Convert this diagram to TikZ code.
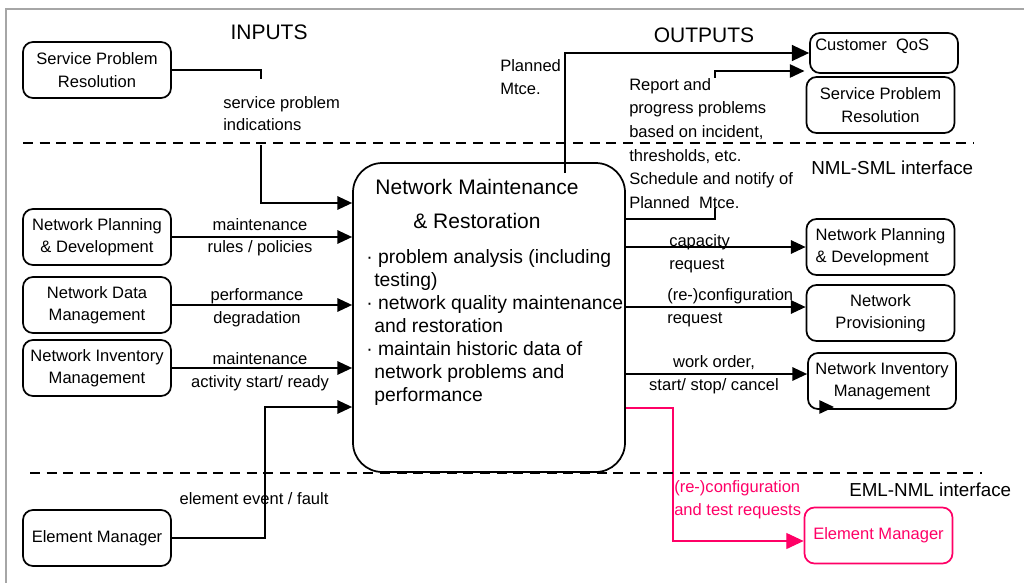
\documentclass[tikz,border=0pt]{standalone}
\usepackage{fontspec}
\setmainfont{Liberation Sans}
\usepackage{tikz}
\usetikzlibrary{arrows.meta, positioning, calc}
\definecolor{linkpink}{RGB}{255,0,102}
\tikzset{
    box/.style={draw, rounded corners=7.5pt, line width=1.3pt, minimum width=111pt, minimum height=42pt, inner sep=1pt, align=center, font=\fontsize{12.4}{16.9}\selectfont},
    lbl/.style={inner sep=0pt, align=center, font=\fontsize{12.4}{16.9}\selectfont},
    hdr/.style={inner sep=0pt, font=\fontsize{15.75}{18}\selectfont},
    iface/.style={anchor=west, inner sep=0pt, font=\fontsize{14.1}{16}\selectfont},
    arr/.style={-{Triangle[length=11pt, width=10pt]}, line width=1.3pt},
    bigarr/.style={-{Triangle[length=13pt, width=12pt]}, line width=1.3pt},
    sep/.style={dash pattern=on 7.5pt off 5pt, line width=1.5pt}
}

\begin{document}
\begin{tikzpicture}[x=0.75pt, y=-0.75pt]
    \useasboundingbox (0,0) rectangle (1024,582);
    \draw[gray!70, line width=1.5pt] (6,600) -- (6,9) -- (1040,9);

    \node[hdr] (inputs) at (269,32) {INPUTS};
    \node[hdr] (outputs) at (704,35) {OUTPUTS};

    \node[box] (spL) at (97,70) {Service Problem\\Resolution};
    \node[box] (npdL) at (97,237) {Network Planning\\\& Development};
    \node[box] (ndmL) at (97,305) {Network Data\\Management};
    \node[box] (nimL) at (97,368) {Network Inventory\\Management};
    \node[box] (emL) at (97,538) {Element Manager};

    \node[box, minimum width=204pt, minimum height=231.75pt, rounded corners=22pt] (main) at (489,317.5) {};
    \node[inner sep=0pt, align=center, font=\fontsize{15.75}{25.5}\selectfont] (mainTtl) at (477,204) {Network Maintenance\\\& Restoration};
    \node[anchor=north west, inner sep=0pt, align=left, font=\fontsize{14.5}{17.25}\selectfont] (mainTxt) at (366,249) {· problem analysis (including\\\hspace*{6pt}testing)\\· network quality maintenance\\\hspace*{6pt}and restoration\\· maintain historic data of\\\hspace*{6pt}network problems and\\\hspace*{6pt}performance};

    \node[box, minimum height=30pt] (cqos) at (884,53) {};
    \node[lbl, anchor=north west] (cqosTxt) at (815,39) {Customer~~QoS};
    \node[box] (spR) at (880.5,105) {Service Problem\\Resolution};
    \node[box, align=left] (npdR) at (880.5,247) {Network Planning\\\& Development};
    \node[box] (npR) at (880.5,313) {Network\\Provisioning};
    \node[box] (nimR) at (882,381) {Network Inventory\\Management};
    \node[box, draw=linkpink, text=linkpink] (emR) at (878.5,535.5) {Element Manager};

    \node[iface] (nmlsml) at (811,168) {NML-SML interface};
    \node[iface] (emlnml) at (849,490) {EML-NML interface};

    \coordinate (spEnd) at (261,79);
    \coordinate (spStart) at (261,145);
    \coordinate (spIn) at (261,203);
    \draw[line width=1.3pt] (spL) -| (spEnd);
    \draw[arr] (spStart) -- (spIn) -- (spIn -| main.west);
    \node[lbl, anchor=west, align=left] (spLbl) at (223,113.5) {service problem\\indications};

    \draw[arr] (npdL) -- (npdL -| main.west);
    \node[lbl] (npdLbl) at (260,237) {maintenance\\rules / policies};
    \draw[arr] (ndmL) -- (ndmL -| main.west);
    \node[lbl] (ndmLbl) at (257,307.5) {performance\\degradation};
    \draw[arr] (nimL) -- (nimL -| main.west);
    \node[lbl] (nimLbl) at (260,371.5) {maintenance\\activity start/ ready};
    \coordinate (emIn) at (265,407);
    \draw[arr] (emL) -| (emIn) -- (emIn -| main.west);
    \node[lbl] (emLbl) at (254,499) {element event / fault};

    \coordinate (pmOut) at (565,173);
    \draw[bigarr] (pmOut) |- (cqos);
    \node[lbl, anchor=west, align=left] (pmLbl) at (500,77) {Planned\\Mtce.};

    \coordinate (rpBend) at (715,219);
    \coordinate (rpTop) at (715,71);
    \draw[arr, shorten >=3.5pt] (rpBend -| main.east) -- (rpBend) -- (rpTop) -- (rpTop -| cqos.west);
    \node[lbl, anchor=north west, align=left, fill=white, font=\fontsize{12.4}{17.7}\selectfont] (rpLbl) at (629,78) {Report and\\progress problems\\based on incident,\\thresholds, etc.\\Schedule and notify of\\Planned~~Mtce.};

    \draw[arr] (npdR -| main.east) -- (npdR);
    \node[lbl, anchor=west, align=left] (capLbl) at (669,253.5) {capacity\\request};
    \coordinate (cfgOut) at (625,307);
    \draw[arr] (cfgOut -| main.east) -- (cfgOut -| npR.west);
    \node[lbl, anchor=west, align=left] (cfgLbl) at (667,307.5) {(re-)configuration\\request};
    \coordinate (woOut) at (625,374);
    \draw[arr] (woOut -| main.east) -- (woOut -| nimR.west);
    \node[lbl] (woLbl) at (714,374.5) {work order,\\start/ stop/ cancel};
    \coordinate (nimTail) at (824,407);
    \coordinate (nimTip) at (834,407);
    \draw[arr] (nimTail) -- (nimTip);

    \coordinate (pkBend) at (673,408);
    \coordinate (pkLow) at (673,541);
    \draw[bigarr, color=linkpink, line width=0.9pt] (pkBend -| main.east) -- (pkBend) -- (pkLow) -- (pkLow -| emR.west);
    \node[lbl, anchor=west, align=left, text=linkpink] (pkLbl) at (674,499.5) {(re-)configuration\\and test requests};

    \draw[sep] (23,143) -- (974,143);
    \draw[sep] (30,473) -- (982,473);
\end{tikzpicture}
\end{document}
